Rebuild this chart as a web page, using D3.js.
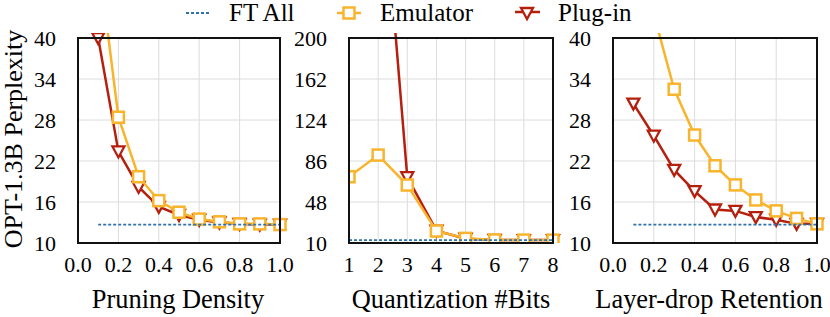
<!DOCTYPE html>
<html>
<head>
<meta charset="utf-8">
<script src="https://cdn.jsdelivr.net/npm/d3@7"></script>
<style>
  body { margin: 0; background: #fff; }
</style>
</head>
<body>
<div id="chart"></div>
<script>
// values
const pruneX = [0.1, 0.2, 0.3, 0.4, 0.5, 0.6, 0.7, 0.8, 0.9, 1.0];
const pruneEmu = [52, 28.4, 19.7, 16.2, 14.5, 13.5, 13.1, 12.8, 12.8, 12.7];
const prunePlug = [40, 23.4, 18.2, 15.3, 14.1, 13.4, 13.0, 12.8, 12.7, 12.7];

const quantX = [1, 2, 3, 4, 5, 6, 7, 8];
const quantEmu = [71.4, 91.5, 63.7, 21.1, 14.3, 12.8, 12.7, 12.7];
const quantPlug = [1000, 400, 71, 21.5, 14, 12.8, 12.7, 12.7];

const dropX = [0.1, 0.2, 0.3, 0.4, 0.5, 0.6, 0.7, 0.8, 0.9, 1.0];
const dropEmu = [60, 43.5, 32.5, 25.8, 21.3, 18.5, 16.3, 14.7, 13.6, 12.8];
const dropPlug = [30.4, 25.7, 20.7, 17.6, 14.9, 14.7, 13.8, 13.4, 12.8, 12.8];

// FT All baseline per panel
const ftAll = [12.7, 12.7, 12.7];

const unitTicks = [0.0, 0.2, 0.4, 0.6, 0.8, 1.0];
const pplTicks = [10, 16, 22, 28, 34, 40];
const quantYTicks = [10, 48, 86, 124, 162, 200];

const xTitles = ["Pruning Density", "Quantization #Bits", "Layer-drop Retention"];
const legendNames = ["FT All", "Emulator", "Plug-in"];

const width = 830, height = 317;
const plotTop = 38, plotBottom = 243;
const emuColor = "#f9b42d", plugColor = "#b51f0e", ftColor = "#2f72ad";
const serif = "'Times New Roman', Times, 'Liberation Serif', Tinos, 'Nimbus Roman', 'Noto Serif', 'DejaVu Serif', FreeSerif, serif";

let svg = d3.select("#chart")
    .append("svg")
    .attr("width", width)
    .attr("height", height)
    .style("font-family", serif);

let defs = svg.append("defs");

let panels = [
    {left: 78, right: 280, titleX: 178, xs: pruneX, emu: pruneEmu, plug: prunePlug, xDom: [0, 1], xTicks: unitTicks,
     yDom: [10, 40], yTicks: pplTicks, fmt: d3.format(".1f")},
    {left: 349, right: 553, titleX: 451, xs: quantX, emu: quantEmu, plug: quantPlug, xDom: [1, 8], xTicks: quantX,
     yDom: [10, 200], yTicks: quantYTicks, fmt: d3.format("d")},
    {left: 613, right: 817, titleX: 709, xs: dropX, emu: dropEmu, plug: dropPlug, xDom: [0, 1], xTicks: unitTicks,
     yDom: [10, 40], yTicks: pplTicks, fmt: d3.format(".1f")}
];

function squareMarker(g, x, y) {
    g.append("rect")
        .attr("x", x - 5.5).attr("y", y - 5.5)
        .attr("width", 11).attr("height", 11)
        .attr("fill", "#fff")
        .attr("stroke", emuColor)
        .attr("stroke-width", 2.5);
}

function triMarker(g, x, y) {
    g.append("path")
        .attr("d", `M${x - 6},${y - 5} L${x + 6},${y - 5} L${x},${y + 6} Z`)
        .attr("fill", "#fff")
        .attr("stroke", plugColor)
        .attr("stroke-width", 2.3)
        .attr("stroke-linejoin", "miter");
}

panels.forEach(function(p, i) {
    let x = d3.scaleLinear().domain(p.xDom).range([p.left, p.right]);
    let y = d3.scaleLinear().domain(p.yDom).range([plotBottom, plotTop]);
    let g = svg.append("g");

    defs.append("clipPath").attr("id", "clip" + i)
        .append("rect")
        .attr("x", p.left).attr("y", plotTop - 5)
        .attr("width", p.right - p.left + 8).attr("height", plotBottom - plotTop + 5);

    // grid
    g.selectAll(".vg").data(p.xTicks).enter().append("line")
        .attr("x1", d => x(d)).attr("x2", d => x(d))
        .attr("y1", plotTop).attr("y2", plotBottom)
        .attr("stroke", "#dcdcdc").attr("stroke-width", 1);
    g.selectAll(".hg").data(p.yTicks).enter().append("line")
        .attr("x1", p.left).attr("x2", p.right)
        .attr("y1", d => y(d)).attr("y2", d => y(d))
        .attr("stroke", "#dcdcdc").attr("stroke-width", 1);

    // tick labels
    g.selectAll(".xt").data(p.xTicks).enter().append("text")
        .attr("x", d => x(d)).attr("y", 272)
        .attr("text-anchor", "middle")
        .style("font-size", "22px")
        .text(d => p.fmt(d));
    g.selectAll(".yt").data(p.yTicks).enter().append("text")
        .attr("x", p.left - 22).attr("y", d => y(d))
        .attr("dy", "0.35em")
        .attr("text-anchor", "end")
        .style("font-size", "22px")
        .text(d => d);

    g.append("text")
        .attr("x", p.titleX).attr("y", 308)
        .attr("text-anchor", "middle")
        .style("font-size", "26.4px")
        .text(xTitles[i]);

    let data = p.xs.map((d, k) => ({x: d, emu: p.emu[k], plug: p.plug[k], ft: ftAll[i]}));
    let plot = g.append("g").attr("clip-path", `url(#clip${i})`);

    let lineOf = key => d3.line().x(d => x(d.x)).y(d => y(d[key]));

    plot.append("path").datum(data)
        .attr("d", lineOf("plug"))
        .attr("fill", "none").attr("stroke", plugColor).attr("stroke-width", 2.5);
    data.forEach(d => triMarker(plot, x(d.x), y(d.plug)));

    plot.append("path").datum(data)
        .attr("d", lineOf("emu"))
        .attr("fill", "none").attr("stroke", emuColor).attr("stroke-width", 2.5);
    data.forEach(d => squareMarker(plot, x(d.x), y(d.emu)));

    plot.append("path").datum(data)
        .attr("d", lineOf("ft"))
        .attr("fill", "none").attr("stroke", ftColor).attr("stroke-width", 1.8)
        .attr("stroke-dasharray", "3,2");

    // frame
    g.append("rect")
        .attr("x", p.left).attr("y", plotTop)
        .attr("width", p.right - p.left).attr("height", plotBottom - plotTop)
        .attr("fill", "none").attr("stroke", "#111").attr("stroke-width", 2);
});

svg.append("text")
    .attr("transform", `translate(22, 139) rotate(-90)`)
    .attr("text-anchor", "middle")
    .style("font-size", "26px")
    .text("OPT-1.3B Perplexity");

// legend
let leg = svg.append("g");
leg.append("line").attr("x1", 186).attr("x2", 210).attr("y1", 13).attr("y2", 13)
    .attr("stroke", ftColor).attr("stroke-width", 1.8).attr("stroke-dasharray", "3,2");
leg.append("line").attr("x1", 337).attr("x2", 361).attr("y1", 13).attr("y2", 13)
    .attr("stroke", emuColor).attr("stroke-width", 2.5);
squareMarker(leg, 349, 13);
leg.append("line").attr("x1", 515).attr("x2", 540).attr("y1", 12).attr("y2", 12)
    .attr("stroke", plugColor).attr("stroke-width", 2.5);
triMarker(leg, 527, 13);

leg.selectAll(".lt").data(legendNames).enter().append("text")
    .attr("x", (d, k) => [229, 380, 558][k])
    .attr("y", 21)
    .style("font-size", "25px")
    .text(d => d);
</script>
</body>
</html>
